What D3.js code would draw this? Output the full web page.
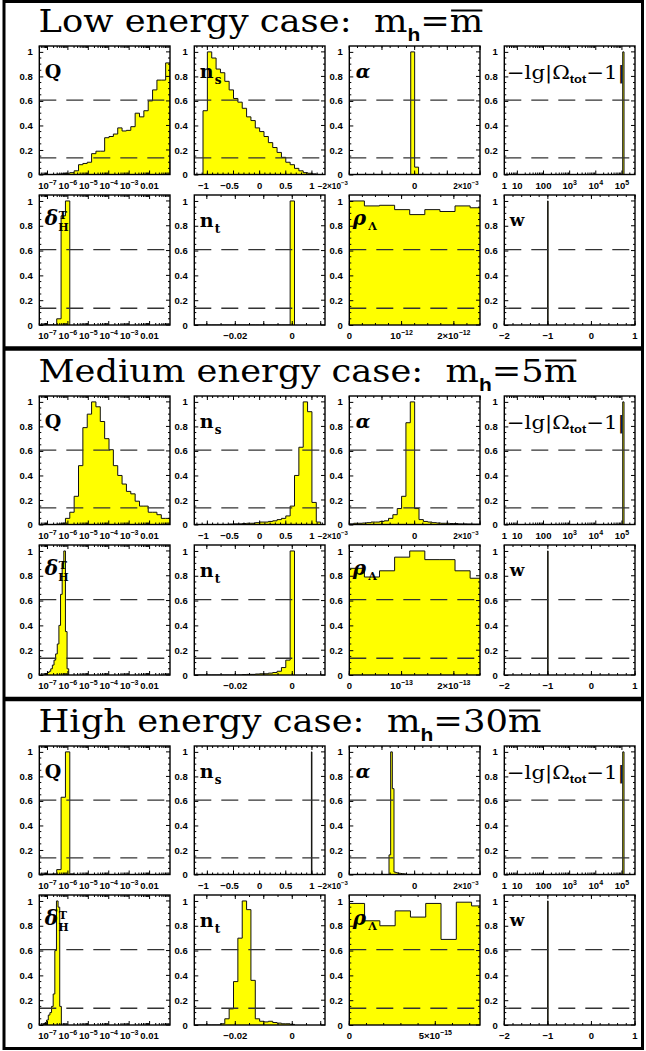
<!DOCTYPE html>
<html><head><meta charset="utf-8">
<script src="https://d3js.org/d3.v7.min.js"></script>
<style>html,body{margin:0;padding:0;background:#fff;}svg{display:block}</style>
</head><body>
<svg id="chart" width="646" height="1051"></svg>
<script>
// ---------------- DATA ----------------
const sectionNames = ["Low", "Medium", "High"];
const sectionCoef = ["", "5", "30"];
const yTickValues = [0, 0.2, 0.4, 0.6, 0.8, 1];
const dashLevels = [0.607, 0.135];

// Q  (x = log10 Q)
const qDomain = [-7.4, -1.0];
const qBins = [[-7.4, 0.21333], [-7.4, 0.21333], [-7.4, 0.21333]];
const qLow  = [0,0,0,0,0.003,0.005,0.01,0.015,0.03,0.08,0.09,0.1,0.17,0.19,0.19,0.3,0.31,0.33,0.38,0.355,0.36,0.39,0.5,0.47,0.52,0.6,0.69,0.77,0.77,0.91];
const qMid  = [0,0,0,0,0.003,0.01,0.05,0.1,0.23,0.48,0.79,0.9,1.0,0.96,0.84,0.7,0.61,0.48,0.4,0.33,0.27,0.25,0.19,0.15,0.15,0.1,0.1,0.08,0.05,0.05];
const qHigh = [0.003,0.003,0.003,0.005,0.04,0.63,1.0,0.005];
const qTicks = [-7,-6,-5,-4,-3,-2];
const qTickLabels = [["10","−7"],["10","−6"],["10","−5"],["10","−4"],["10","−3"],["0.01",""]];

// n_s
const nsDomain = [-1.25, 1.25];
const nsBins = [[-1.25, 0.083333], [-1.25, 0.083333], [0.99, 0.01]];
const nsLow  = [0,0,0.52,1.0,0.95,0.86,0.83,0.76,0.69,0.62,0.59,0.54,0.47,0.44,0.38,0.35,0.31,0.26,0.22,0.18,0.14,0.1,0.08,0.05,0.03,0.015,0.01,0.005,0,0];
const nsMid  = [0,0,0,0,0,0,0,0,0.003,0.005,0.005,0.008,0.01,0.01,0.015,0.02,0.02,0.025,0.03,0.04,0.05,0.07,0.15,0.4,0.63,1.0,0.92,0.18,0.02,0];
const nsHigh = [1.0];
const nsTicks = [-1,-0.5,0,0.5,1];
const nsTickLabels = [["−1",""],["−0.5",""],["0",""],["0.5",""],["1",""]];

// alpha (units of 1e-3)
const alphaDomain = [-2, 2];
const alphaBins = [[-0.12, 0.12], [-2.0, 0.13333], [-0.785, 0.051]];
const alphaLow  = [1.0, 0.06];
const alphaMid  = [0.005,0.01,0.01,0.012,0.015,0.02,0.02,0.025,0.03,0.05,0.08,0.13,0.23,0.83,1.0,0.13,0.04,0.025,0.02,0.015,0.012,0.01,0.01,0.008,0.008,0.005,0.005,0.004,0.003,0.003];
const alphaHigh = [0.16,1.0,0.7,0.02,0.015,0.012,0.01,0.008,0.006,0.005];
const alphaTicks = [-2,-1,0,1,2];
const alphaTickLabels = [["−2×10","−3"],null,["0",""],null,["2×10","−3"]];

// -lg|Omega_tot - 1|  (x = log10)
const omDomain = [0.5, 5.5];
const omBins = [[5.03,0.05],[5.03,0.05],[5.03,0.05]];
const omLow = [1.0], omMid = [1.0], omHigh = [1.0];
const omTicks = [0.5,1,2,3,4,5];
const omTickLabels = [["1",""],["10",""],["100",""],["10","3"],["10","4"],["10","5"]];

// delta_H^T (x = log10)
const dhDomain = [-7.4, -1.0];
const dhBins = [[-7.4, 0.21333], [-7.0, 0.08], [-7.2, 0.08]];
const dhLow  = [0,0,0,0,0.05,0.88,1.0];
const dhMid  = [0.02,0.03,0.05,0.08,0.12,0.17,0.25,0.4,0.65,0.9,1.0,0.35,0.05];
const dhHigh = [0.01,0.02,0.04,0.08,0.1,0.15,0.25,0.6,1.0,0.95,0.15];

// n_t
const ntDomain = [-0.0344, 0.0115];
const ntBins = [[-0.0344,0.00153],[-0.0344,0.00153],[-0.0344,0.00153]];
const ntLow  = [0,0,0,0,0,0,0,0,0,0,0,0,0,0,0,0,0,0,0,0,0,0,1.0];
const ntMid  = [0,0,0,0,0,0,0,0,0,0,0,0.003,0.005,0.005,0.008,0.01,0.01,0.015,0.02,0.03,0.06,0.12,1.0];
const ntHigh = [0,0,0,0,0,0,0.01,0.05,0.13,0.35,0.7,1.0,0.93,0.36,0.05,0.03,0.025,0.03,0.02,0.015,0.01,0.01,0.005];
const ntTicks = [-0.03,-0.02,-0.01,0,0.01];
const ntTickLabels = [null,["−0.02",""],null,["0",""],null];

// rho_Lambda (units shown in tick labels)
const rhoDomains = [[0,2.5],[0,2.5],[0,7.6]];
const rhoBins = [[0,0.28889],[0,0.28889],[0,0.88889]];
const rhoLow  = [1.0,0.96,0.965,0.93,0.89,0.93,0.915,0.96,0.945];
const rhoMid  = [0.86,0.79,0.84,0.95,1.0,0.93,0.93,0.84,0.78];
const rhoHigh = [0.98,0.84,0.8,0.92,0.87,0.98,0.69,0.99,0.96];
const rhoTicks = [[0,1,2],[0,1,2],[0,5]];
const rhoTickLabels = [
  [["0",""],["10","−12"],["2×10","−12"]],
  [["0",""],["10","−13"],["2×10","−13"]],
  [["0",""],["5×10","−15"]]
];

// w
const wDomain = [-2, 1];
const wBins = [[-1.006,0.012],[-1.006,0.012],[-1.006,0.012]];
const wLow = [1.0], wMid = [1.0], wHigh = [1.0];
const wTicks = [-2,-1,0,1];
const wTickLabels = [["−2",""],["−1",""],["0",""],["1",""]];

// ---------------- LAYOUT ----------------
const W = 646, H = 1051;
const secTop = [0, 350, 700];
const colLeft = [39.3, 194.3, 349.3, 504.3];
const panelW = 130.7;
const rowTop = [46, 195];
const rowH = [128.5, 130];
const yMax = 1.048;
const titleWidth = [445, 539, 503];
const SANS = "'Liberation Sans', Arial, Helvetica, sans-serif";
const SERIF = "'DejaVu Serif', serif";

const svg = d3.select("#chart");
svg.append("rect").attr("width", W).attr("height", H).attr("fill", "#fff");

function logMinor(dom) {
  const out = [];
  for (let d = Math.floor(dom[0]) - 1; d <= Math.ceil(dom[1]); d++)
    for (let k = 2; k <= 9; k++) { const v = d + Math.log10(k); if (v > dom[0] && v < dom[1]) out.push(v); }
  return out;
}
function linMinor(dom, step) {
  const out = [];
  const s = Math.ceil(dom[0] / step - 1e-9);
  for (let i = s; i * step <= dom[1] + 1e-9; i++) out.push(i * step);
  return out;
}

const panels = [
  [ // row 0
    {key:"Q", domain:()=>qDomain, bins:qBins, data:[qLow,qMid,qHigh], ticks:()=>qTicks, labels:()=>qTickLabels, minor:(d)=>logMinor(d)},
    {key:"ns", domain:()=>nsDomain, bins:nsBins, data:[nsLow,nsMid,nsHigh], ticks:()=>nsTicks, labels:()=>nsTickLabels, minor:(d)=>linMinor(d,0.1)},
    {key:"alpha", domain:()=>alphaDomain, bins:alphaBins, data:[alphaLow,alphaMid,alphaHigh], ticks:()=>alphaTicks, labels:()=>alphaTickLabels, minor:(d)=>linMinor(d,0.25)},
    {key:"omega", domain:()=>omDomain, bins:omBins, data:[omLow,omMid,omHigh], ticks:()=>omTicks.slice(1), labels:()=>omTickLabels, labelPos:()=>omTicks, minor:(d)=>logMinor(d)}
  ],
  [ // row 1
    {key:"dH", domain:()=>dhDomain, bins:dhBins, data:[dhLow,dhMid,dhHigh], ticks:()=>qTicks, labels:()=>qTickLabels, minor:(d)=>logMinor(d)},
    {key:"nt", domain:()=>ntDomain, bins:ntBins, data:[ntLow,ntMid,ntHigh], ticks:()=>ntTicks, labels:()=>ntTickLabels, minor:(d)=>linMinor(d,0.005)},
    {key:"rho", domain:(s)=>rhoDomains[s], bins:rhoBins, data:[rhoLow,rhoMid,rhoHigh], ticks:(s)=>rhoTicks[s], labels:(s)=>rhoTickLabels[s], minor:(d,s)=>linMinor(d, s===2?1:0.25)},
    {key:"w", domain:()=>wDomain, bins:wBins, data:[wLow,wMid,wHigh], ticks:()=>wTicks, labels:()=>wTickLabels, minor:(d)=>linMinor(d,0.2)}
  ]
];

let clipId = 0;
function drawPanel(s, r, c) {
  const p = panels[r][c];
  const x0 = colLeft[c], y0 = secTop[s] + rowTop[r], w = panelW, h = rowH[r];
  const dom = p.domain(s);
  const x = d3.scaleLinear().domain(dom).range([x0, x0 + w]);
  const y = d3.scaleLinear().domain([0, yMax]).range([y0 + h, y0]);
  const g = svg.append("g");
  const id = "clip" + (clipId++);
  g.append("clipPath").attr("id", id).append("rect").attr("x", x0).attr("y", y0).attr("width", w).attr("height", h);

  // histogram
  const [lo, step] = p.bins[s];
  const vals = p.data[s];
  const pts = [[x(lo), y(0)]];
  vals.forEach((v, i) => {
    pts.push([x(lo + i * step), y(v)]);
    pts.push([x(lo + (i + 1) * step), y(v)]);
  });
  pts.push([x(lo + vals.length * step), y(0)]);
  const line = d3.line();
  g.append("path").attr("clip-path", `url(#${id})`).attr("d", line(pts) + "Z")
    .attr("fill", "#ffff00").attr("stroke", "none");
  g.append("path").attr("clip-path", `url(#${id})`).attr("d", line(pts))
    .attr("fill", "none").attr("stroke", "#111").attr("stroke-width", 1);

  // dashed levels
  dashLevels.forEach(lv => {
    g.append("line").attr("x1", x0).attr("x2", x0 + w).attr("y1", y(lv)).attr("y2", y(lv))
      .attr("stroke", "#333").attr("stroke-width", 1.3).attr("stroke-dasharray", "17,10");
  });

  // y axis (left) with labels
  const ya = d3.axisLeft(y).tickValues(yTickValues).tickSize(-4).tickPadding(6.5).tickFormat(d3.format("~g"));
  const yg = g.append("g").attr("transform", `translate(${x0},0)`).call(ya);
  yg.select(".domain").remove();
  yg.selectAll("line").attr("stroke", "#000").attr("stroke-width", 1);
  yg.selectAll("text").attr("font-family", SANS).attr("font-weight", "bold").attr("font-size", 9.5).attr("fill", "#000");
  // right major + minor ticks
  const tk = g.append("g").attr("stroke", "#000").attr("stroke-width", 1);
  yTickValues.forEach(v => tk.append("line").attr("x1", x0 + w).attr("x2", x0 + w - 4).attr("y1", y(v)).attr("y2", y(v)));
  d3.range(0.05, 1.04, 0.05).forEach(v => {
    if (Math.abs(v * 5 - Math.round(v * 5)) < 1e-6) return;
    tk.append("line").attr("x1", x0).attr("x2", x0 + 2).attr("y1", y(v)).attr("y2", y(v));
    tk.append("line").attr("x1", x0 + w).attr("x2", x0 + w - 2).attr("y1", y(v)).attr("y2", y(v));
  });
  // x ticks
  p.ticks(s).forEach(v => {
    const xx = x(v);
    if (xx < x0 - 0.1 || xx > x0 + w + 0.1) return;
    tk.append("line").attr("x1", xx).attr("x2", xx).attr("y1", y0 + h).attr("y2", y0 + h - 4);
    tk.append("line").attr("x1", xx).attr("x2", xx).attr("y1", y0).attr("y2", y0 + 4);
  });
  p.minor(dom, s).forEach(v => {
    const xx = x(v);
    tk.append("line").attr("x1", xx).attr("x2", xx).attr("y1", y0 + h).attr("y2", y0 + h - 2);
    tk.append("line").attr("x1", xx).attr("x2", xx).attr("y1", y0).attr("y2", y0 + 2);
  });
  // x labels
  const labs = p.labels(s);
  const lpos = p.labelPos ? p.labelPos(s) : p.ticks(s);
  labs.forEach((lb, i) => {
    if (!lb) return;
    let xx = x(lpos[i]);
    let anchor = "middle";
    let fs = 9.5, fsSup = 7;
    const isAlphaX = lb[0].indexOf("×") >= 0 && p.key === "alpha";
    if (isAlphaX) { anchor = "end"; xx -= 1.5; fs = 8.2; fsSup = 6; }
    if (p.key === "ns" && lb[0][0] === "−") xx -= 4;
    const t = g.append("text").attr("x", xx).attr("y", y0 + h + 14).attr("text-anchor", anchor)
      .attr("font-family", SANS).attr("font-weight", "bold").attr("font-size", fs).attr("fill", "#000");
    t.append("tspan").text(lb[0]);
    if (lb[1]) t.append("tspan").attr("dy", -3.6).attr("font-size", fsSup).text(lb[1]);
  });

  // frame
  g.append("rect").attr("x", x0).attr("y", y0).attr("width", w).attr("height", h)
    .attr("fill", "none").attr("stroke", "#000").attr("stroke-width", 1.4);

  drawVarLabel(g, p.key, x0, y0);
}

function txt(g, x, y, str, fs, opts = {}) {
  return g.append("text").attr("x", x).attr("y", y).attr("font-family", opts.family || SERIF)
    .attr("font-size", fs).attr("font-weight", opts.weight || "bold")
    .attr("font-style", opts.style || "normal").attr("fill", "#000").text(str);
}

function drawVarLabel(g, key, x0, y0) {
  const by = y0 + 32;
  if (key === "Q") txt(g, x0 + 5.5, by, "Q", 19);
  if (key === "ns") { txt(g, x0 + 5.5, by, "n", 19); txt(g, x0 + 20.5, by + 5.5, "s", 12); }
  if (key === "nt") { txt(g, x0 + 5.5, by, "n", 19); txt(g, x0 + 20.5, by + 5.5, "t", 12); }
  if (key === "alpha") txt(g, x0 + 6.5, by, "α", 19, {style: "italic"});
  if (key === "w") txt(g, x0 + 5.5, by - 1, "w", 17);
  if (key === "rho") { txt(g, x0 + 3.5, by - 2, "ρ", 20, {style: "italic"}); txt(g, x0 + 19, by + 3, "Λ", 11); }
  if (key === "dH") {
    txt(g, x0 + 5.5, by - 2, "δ", 20, {style: "italic"});
    txt(g, x0 + 19.5, by - 8, "T", 11);
    txt(g, x0 + 19, by + 4, "H", 11);
  }
  if (key === "omega") {
    const t = g.append("text").attr("x", x0 + 2.5).attr("y", by + 1).attr("font-family", SERIF)
      .attr("font-size", 19).attr("fill", "#000");
    t.append("tspan").text("−lg|Ω");
    t.append("tspan").attr("dy", 4.5).attr("font-size", 11.5).attr("font-weight", "bold").attr("font-family", SANS).text("tot");
    t.append("tspan").attr("dy", -4.5).text("−1|");
    const wn = t.node().getComputedTextLength();
    const target = 118;
    t.attr("transform", `translate(${x0 + 2.5},0) scale(${target / wn},1) translate(${-(x0 + 2.5)},0)`);
  }
}

function drawTitle(s) {
  const g = svg.append("g");
  const x0 = 38.5, by = secTop[s] + 32;
  const t = g.append("text").attr("x", x0).attr("y", by).attr("font-family", SERIF)
    .attr("font-size", 32).attr("fill", "#000");
  t.append("tspan").text(sectionNames[s] + " energy case:\u00a0\u00a0m");
  t.append("tspan").attr("dy", 9).attr("font-size", 19).attr("font-weight", "bold").attr("font-family", SANS).text("h");
  t.append("tspan").attr("dy", -9).text("=" + sectionCoef[s] + "m");
  const node = t.node();
  const n = node.getNumberOfChars();
  const xs = node.getStartPositionOfChar(n - 1).x, xe = node.getEndPositionOfChar(n - 1).x;
  const wn = node.getComputedTextLength();
  const sx = titleWidth[s] / wn;
  g.attr("transform", `translate(${x0},0) scale(${sx},1) translate(${-x0},0)`);
  g.append("line").attr("x1", xs + 1).attr("x2", xe - 1).attr("y1", by - 21.5).attr("y2", by - 21.5)
    .attr("stroke", "#000").attr("stroke-width", 2);
}

for (let s = 0; s < 3; s++) {
  drawTitle(s);
  for (let r = 0; r < 2; r++) for (let c = 0; c < 4; c++) drawPanel(s, r, c);
}

// outer frame and separators
svg.append("rect").attr("x", 4).attr("y", 1.5).attr("width", 638.5).attr("height", 1047)
  .attr("fill", "none").attr("stroke", "#000").attr("stroke-width", 3);
[348.5, 699].forEach(yy => svg.append("line").attr("x1", 4).attr("x2", 642.5).attr("y1", yy).attr("y2", yy)
  .attr("stroke", "#000").attr("stroke-width", 4.5));
</script>
</body></html>
